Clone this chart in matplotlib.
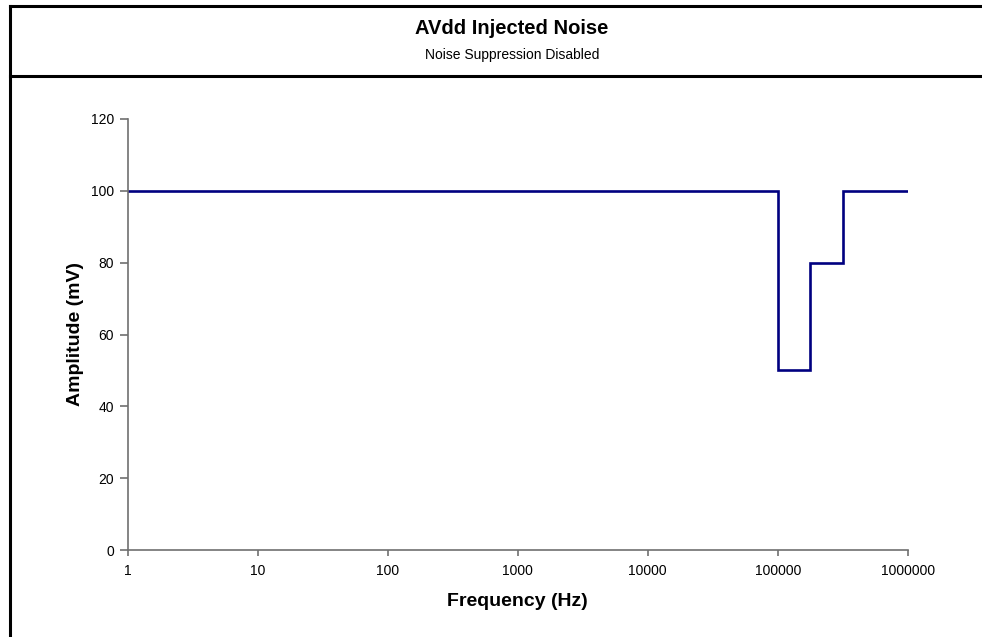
import matplotlib
matplotlib.use("Agg")
import matplotlib.pyplot as plt
from matplotlib.lines import Line2D
from matplotlib.ticker import FixedLocator, FixedFormatter, NullLocator

plt.rcParams['font.family'] = ['Liberation Sans', 'DejaVu Sans']

# Data (step chart: amplitude holds from each frequency to the next)
freq_hz = [1, 100000, 177800, 316200, 1000000]
amplitude_mv = [100, 50, 80, 100, 100]

x_ticks = [1, 10, 100, 1000, 10000, 100000, 1000000]
x_tick_labels = ["1", "10", "100", "1000", "10000", "100000", "1000000"]
y_ticks = [0, 20, 40, 60, 80, 100, 120]

title = "AVdd Injected Noise"
subtitle = "Noise Suppression Disabled"
xlabel = "Frequency (Hz)"
ylabel = "Amplitude (mV)"

W, H = 982, 637
fig = plt.figure(figsize=(W / 100, H / 100), dpi=100)

def fx(px):
    return px / W

def fy(py):
    return 1 - py / H

ax = fig.add_axes([fx(127.7), fy(550), fx(907.7) - fx(127.7), fy(119) - fy(550)])
ax.plot(freq_hz, amplitude_mv, drawstyle='steps-post', color='#000080', lw=1.9,
        solid_joinstyle='miter')
ax.set_xscale('log')
ax.set_xlim(1, 1000000)
ax.set_ylim(0, 120)
ax.xaxis.set_major_locator(FixedLocator(x_ticks))
ax.xaxis.set_major_formatter(FixedFormatter(x_tick_labels))
ax.xaxis.set_minor_locator(NullLocator())
ax.set_yticks(y_ticks)
ax.set_yticklabels([str(v) for v in y_ticks])

for s in ['top', 'right']:
    ax.spines[s].set_visible(False)
for s in ['left', 'bottom']:
    ax.spines[s].set_color('#707070')
    ax.spines[s].set_linewidth(1.2)
ax.tick_params(axis='x', direction='out', length=4, width=1.2, color='#707070',
               labelsize=10, pad=6, labelcolor='black')
ax.tick_params(axis='y', direction='out', length=6, width=1.2, color='#707070',
               labelsize=10, pad=4, labelcolor='black')
ax.set_xlabel(xlabel, fontsize=14, fontweight='bold', labelpad=11)
ax.set_ylabel(ylabel, fontsize=14, fontweight='bold', labelpad=5)
ax.patch.set_visible(False)

# Frame and header
lw_frame = 2.2
fig.add_artist(Line2D([fx(10), fx(10)], [fy(6), 0], color='black', lw=lw_frame,
                      transform=fig.transFigure))
fig.add_artist(Line2D([fx(10), 1], [fy(6), fy(6)], color='black', lw=lw_frame,
                      transform=fig.transFigure))
fig.add_artist(Line2D([fx(10), 1], [fy(76), fy(76)], color='black', lw=lw_frame,
                      transform=fig.transFigure))

fig.text(fx(512), fy(29), title, ha='center', va='center', fontsize=14.5,
         fontweight='bold')
fig.text(fx(512), fy(55), subtitle, ha='center', va='center', fontsize=10)

fig.savefig("out.png", dpi=100)
